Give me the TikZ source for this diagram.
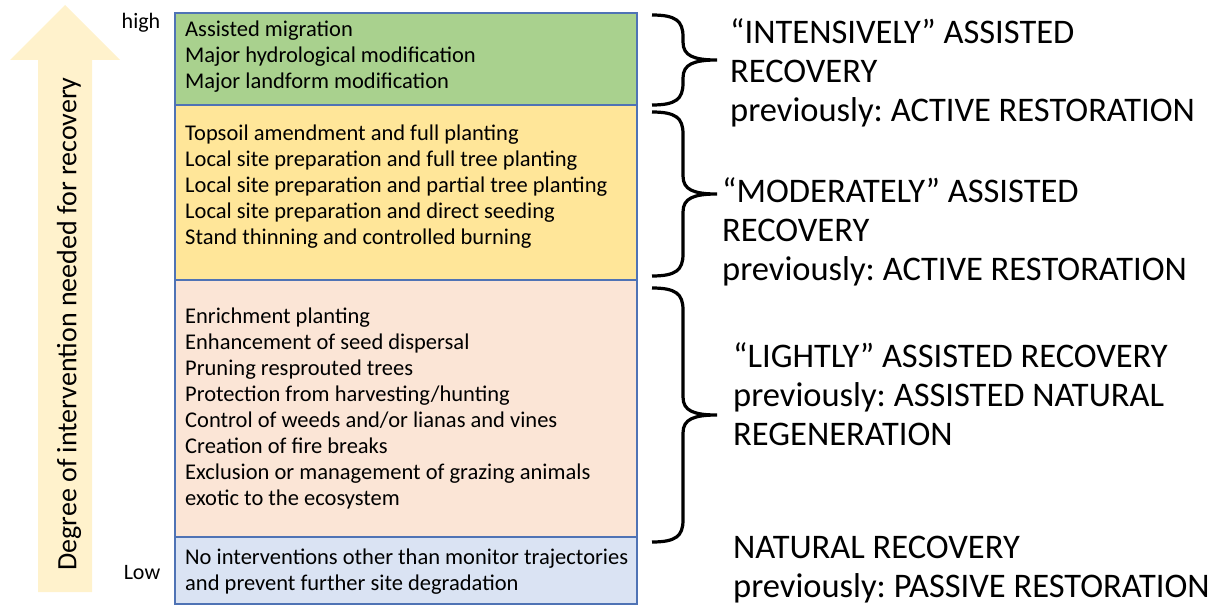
\documentclass[tikz,border=0pt]{standalone}
\usepackage{fontspec}
\setmainfont{Carlito}
\frenchspacing
\usetikzlibrary{positioning}

\definecolor{greenbox}{HTML}{A9D18E}
\definecolor{yellowbox}{HTML}{FFE699}
\definecolor{peachbox}{HTML}{FBE5D6}
\definecolor{bluebox}{HTML}{DAE3F3}
\definecolor{boxline}{HTML}{4F73B5}
\definecolor{arrowfill}{HTML}{FFF2CC}

\tikzset{
  stage/.style={draw=boxline, line width=1.2pt, minimum width=462pt, outer sep=0pt, inner sep=0pt},
  stagetext/.style={align=left, inner sep=0pt, font=\fontsize{22.5}{26}\selectfont},
  category/.style={anchor=north west, align=left, inner sep=0pt, font=\fontsize{34.5}{39}\selectfont},
  bracket/.style={line width=3.2pt},
}

% curly bracket right of the boxes, from y=#1 down to y=#2
\newcommand{\sidebrace}[2]{%
  \pgfmathsetmacro{\bmid}{(#1+#2)/2}
  \draw[bracket] (652,#1) .. controls (676,#1) and (683,#1+6) .. (683,#1+22)
    -- (683,\bmid-18) .. controls (683,\bmid-4) and (694,\bmid) .. (717,\bmid)
    .. controls (694,\bmid) and (683,\bmid+4) .. (683,\bmid+18)
    -- (683,#2-22) .. controls (683,#2-6) and (676,#2) .. (652,#2);
}

\begin{document}
\begin{tikzpicture}[x=1pt, y=-1pt]
    \useasboundingbox (0,0) rectangle (1217,610);

    % arrow on the left
    \fill[arrowfill] (38,592) -- (38,60) -- (10,60) -- (65,5) -- (120,60) -- (92,60) -- (92,592) -- cycle;
    \node[rotate=90, font=\fontsize{28}{30}\selectfont] (degree) at (69,324) {Degree of intervention needed for recovery};
    \node[font=\fontsize{22}{26}\selectfont] (high) at (141,23) {high};
    \node[font=\fontsize{22}{26}\selectfont] (low) at (142,573) {Low};

    % the four boxes
    \node[stage, fill=greenbox, minimum height=92pt, anchor=north west] (green) at (175,13) {};
    \node[stage, fill=yellowbox, minimum height=175pt, below=0pt of green] (yellow) {};
    \node[stage, fill=peachbox, minimum height=257pt, below=0pt of yellow] (peach) {};
    \node[stage, fill=bluebox, minimum height=67pt, below=0pt of peach] (blue) {};

    \node[stagetext, right=10pt of green.west, yshift=2pt] (greentext) {Assisted migration\\
        Major hydrological modification\\
        Major landform modification};
    \node[stagetext, right=10pt of yellow.west, yshift=6pt] (yellowtext) {Topsoil amendment and full planting\\
        Local site preparation and full tree planting\\
        Local site preparation and partial tree planting\\
        Local site preparation and direct seeding\\
        Stand thinning and controlled burning};
    \node[stagetext, right=10pt of peach.west] (peachtext) {Enrichment planting\\
        Enhancement of seed dispersal\\
        Pruning resprouted trees\\
        Protection from harvesting/hunting\\
        Control of weeds and/or lianas and vines\\
        Creation of fire breaks\\
        Exclusion or management of grazing animals\\
        exotic to the ecosystem};
    \node[stagetext, right=10pt of blue.west, yshift=-1pt] (bluetext) {No interventions other than monitor trajectories\\
        and prevent further site degradation};

    % braces
    \sidebrace{15}{105}
    \sidebrace{112}{276}
    \sidebrace{288}{542}

    % categories
    \node[category] (intensive) at (730,18) {“INTENSIVELY” ASSISTED\\RECOVERY\\previously: ACTIVE RESTORATION};
    \node[category] (moderate) at (722,177) {“MODERATELY” ASSISTED\\RECOVERY\\previously: ACTIVE RESTORATION};
    \node[category] (light) at (733,342) {“LIGHTLY” ASSISTED RECOVERY\\previously: ASSISTED NATURAL\\REGENERATION};
    \node[category] (natural) at (733,536) {NATURAL RECOVERY\\previously: PASSIVE RESTORATION};
\end{tikzpicture}
\end{document}
